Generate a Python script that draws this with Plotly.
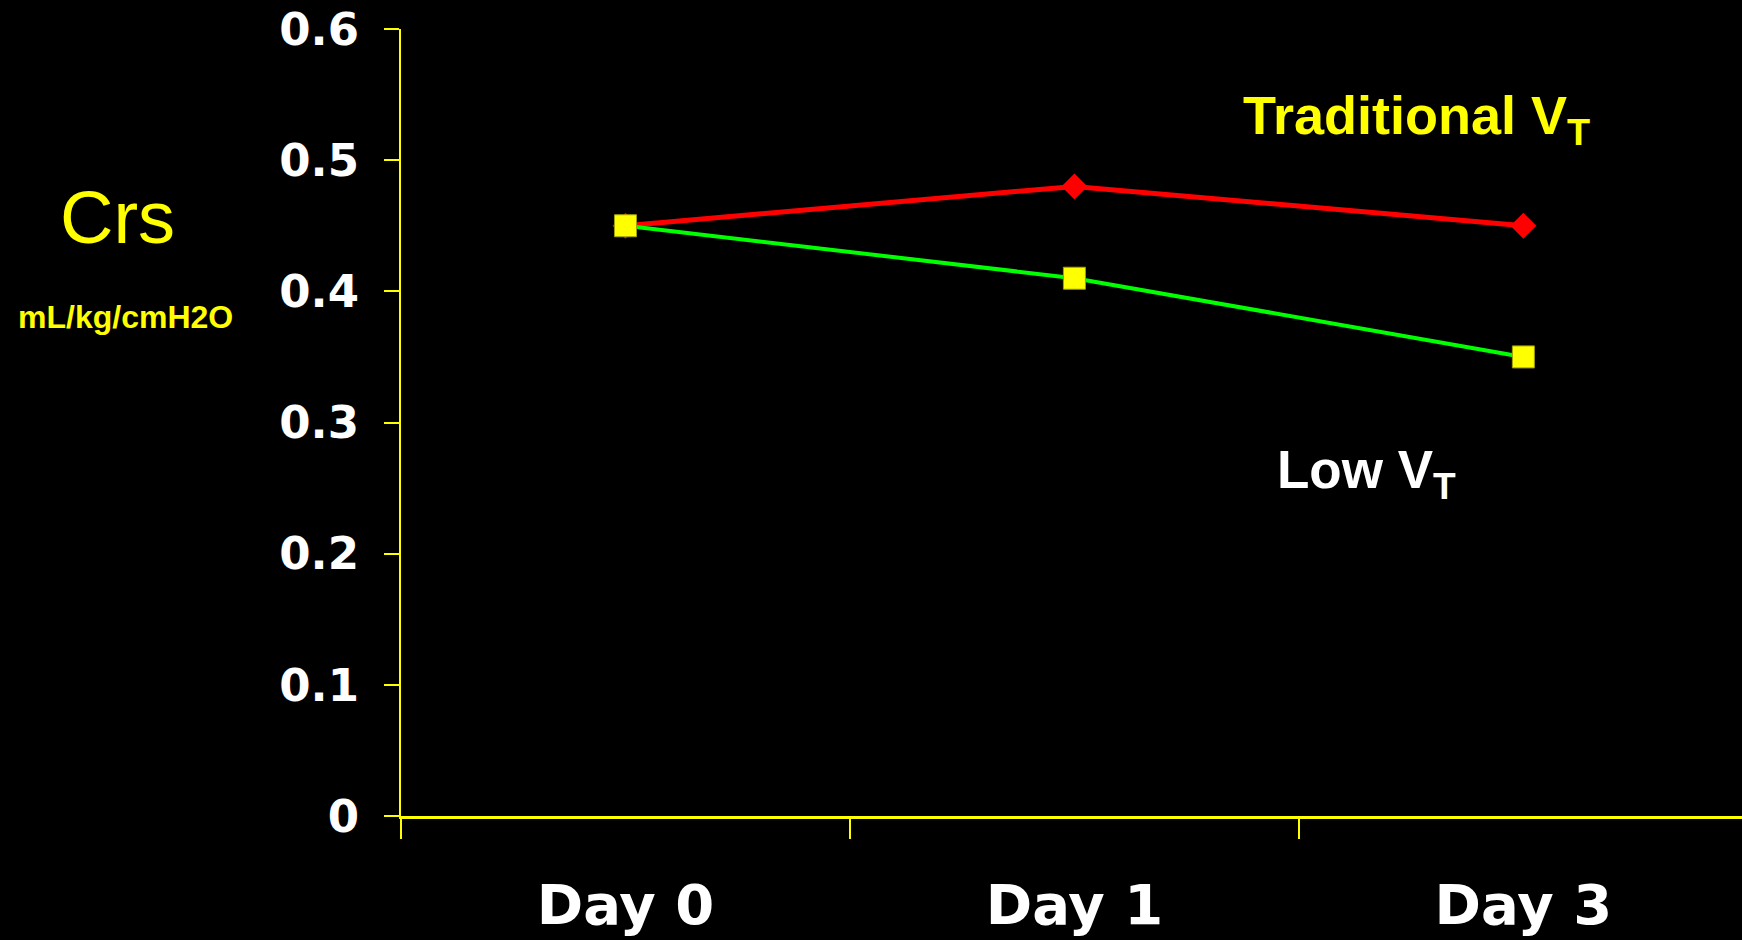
import plotly.graph_objects as go

# Respiratory system compliance by study day
days = ["Day 0", "Day 1", "Day 3"]
traditional_vt = [0.45, 0.48, 0.45]
low_vt = [0.45, 0.41, 0.35]
y_ticks = [0, 0.1, 0.2, 0.3, 0.4, 0.5, 0.6]

W, H = 1742, 940
ML, MR, MT, MB = 401, 0, 29, 124
PW, PH = W - ML - MR, H - MT - MB


def px(x):
    return (x - ML) / PW


def py(y):
    return (H - MB - y) / PH


fig = go.Figure()

fig.add_trace(go.Scatter(
    x=days, y=traditional_vt, mode="lines+markers",
    line=dict(color="#FF0000", width=5),
    marker=dict(symbol="diamond", size=20, color="#FF0000"),
    showlegend=False,
))
fig.add_trace(go.Scatter(
    x=days, y=low_vt, mode="lines+markers",
    line=dict(color="#00FF00", width=4),
    marker=dict(symbol="square", size=22, color="#FFFF00",
                line=dict(color="#A0A000", width=1)),
    showlegend=False,
))

lab = "Liberation Sans, Arial, sans-serif"
tick_font = "DejaVu Sans, Verdana, sans-serif"

annotations = [
    dict(text="Traditional V<sub>T</sub>", x=px(1241), y=py(119),
         font=dict(family=lab, size=54, color="#FFFF00", weight="bold"),
         xanchor="left", yanchor="middle"),
    dict(text="Low V<sub>T</sub>", x=px(1275), y=py(473),
         font=dict(family=lab, size=53, color="#FFFFFF", weight="bold"),
         xanchor="left", yanchor="middle"),
    dict(text="Crs", x=px(117), y=py(218),
         font=dict(family=lab, size=74, color="#FFFF00"),
         xanchor="center", yanchor="middle"),
    dict(text="mL/kg/cmH2O", x=px(125), y=py(317),
         font=dict(family=lab, size=32, color="#FFFF00", weight="bold"),
         xanchor="center", yanchor="middle"),
]
for a in annotations:
    a.update(xref="paper", yref="paper", showarrow=False)

fig.update_layout(
    width=W, height=H,
    margin=dict(l=ML, r=MR, t=MT, b=MB, pad=0),
    paper_bgcolor="#000000", plot_bgcolor="#000000",
    annotations=annotations,
    xaxis=dict(
        type="category", categoryorder="array", categoryarray=days,
        range=[-0.5, 2.487], tickson="boundaries",
        showline=True, linecolor="#FFFF00", linewidth=3,
        ticks="outside", ticklen=20, tickwidth=2, tickcolor="#FFFF00",
        showgrid=False, zeroline=False,
        tickfont=dict(family=tick_font, size=56, color="#FFFFFF", weight="bold"),
        ticklabelstandoff=38,
    ),
    yaxis=dict(
        range=[0, 0.6], tickvals=y_ticks,
        ticktext=[("%g" % v) for v in y_ticks],
        showline=True, linecolor="#FFFF00", linewidth=2,
        ticks="outside", ticklen=15, tickwidth=2, tickcolor="#FFFF00",
        showgrid=False, zeroline=False,
        tickfont=dict(family=tick_font, size=45, color="#FFFFFF", weight="bold"),
        ticklabelstandoff=16,
    ),
)

fig.write_html("out.html")
